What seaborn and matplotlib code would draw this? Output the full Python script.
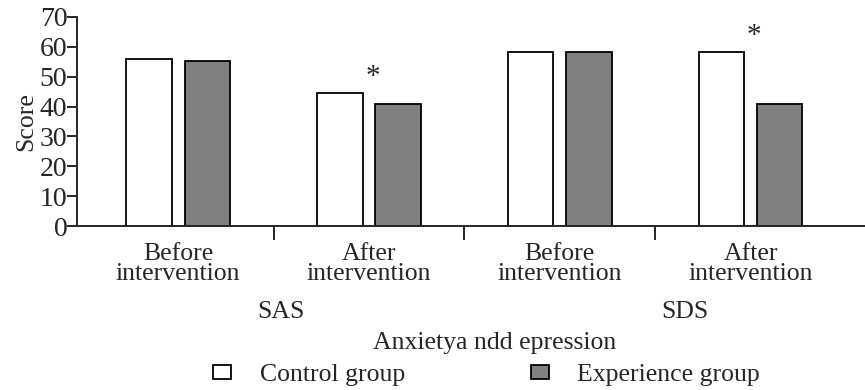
import matplotlib
matplotlib.use("Agg")
import matplotlib.pyplot as plt
import numpy as np
import pandas as pd
import seaborn as sns

# data
stages = ["SAS before", "SAS after", "SDS before", "SDS after"]
stage_labels = ["Before\nintervention", "After\nintervention",
                "Before\nintervention", "After\nintervention"]
scales = ["SAS", "SDS"]
groups = ["Control group", "Experience group"]
control = [55.8, 44.7, 58.4, 58.4]
experience = [55.4, 40.9, 58.2, 40.7]
significant = [False, True, False, True]

sns.set_theme(style="ticks")
plt.rcParams["font.family"] = ["Liberation Serif", "DejaVu Serif"]
plt.rcParams["axes.linewidth"] = 1.4

df = pd.DataFrame({
    "stage": stages * 2,
    "group": [groups[0]] * 4 + [groups[1]] * 4,
    "score": control + experience,
})

fig = plt.figure(figsize=(8.65, 3.9), dpi=100)
ax = fig.add_axes([0.089, 0.4205, 0.911, 0.536])

sns.barplot(
    data=df, x="stage", y="score", hue="group", order=stages,
    hue_order=groups, palette=["white", "#808080"], width=0.61, gap=0.22,
    edgecolor="black", linewidth=1.3, ax=ax,
)

ax.set_xlim(-0.53, 3.6)
ax.set_ylim(0, 70)
ax.set_yticks(np.arange(0, 71, 10))
ax.tick_params(axis="y", labelsize=20, length=7, width=1.4, pad=0)
ax.set_xticks(range(len(stages)))
ax.set_xticklabels(stage_labels, fontsize=18.5, linespacing=0.9)
ax.set_xticks([0.5, 1.5, 2.5], minor=True)
ax.tick_params(axis="x", which="major", length=0, pad=12)
ax.tick_params(axis="x", which="minor", length=10, width=1.4)
ax.set_xlabel("")
ax.set_ylabel("Score", fontsize=18.5, labelpad=2)
sns.despine(ax=ax)

# significance stars
for i, sig in enumerate(significant):
    if sig:
        top = max(control[i], experience[i])
        ax.text(i + 0.02, top + 0.8, "*", ha="center", va="bottom", fontsize=21)

# scale names and axis title
fig.text(281 / 865, 0.2, scales[0], ha="center", va="center", fontsize=18.5)
fig.text(685 / 865, 0.2, scales[1], ha="center", va="center", fontsize=18.5)
fig.text(495 / 865, 0.12, "Anxietya ndd epression", ha="center",
         va="center", fontsize=18.5)

handles, labels = ax.get_legend_handles_labels()
ax.legend_.remove()
fig.legend(handles, labels, loc="center", bbox_to_anchor=(0.5624, 0.038),
           ncol=2, frameon=False, fontsize=18.5, handlelength=0.7,
           handleheight=0.5, handletextpad=1.1, columnspacing=4.9,
           borderpad=0, borderaxespad=0)

fig.savefig("out.png", dpi=100)
